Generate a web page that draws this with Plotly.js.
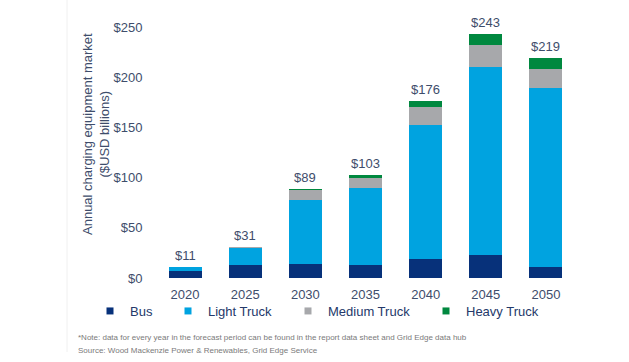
<!DOCTYPE html>
<html>
<head>
<meta charset="utf-8">
<script src="https://cdn.plot.ly/plotly-3.0.1.min.js"></script>
<style>html,body{margin:0;padding:0;background:#fff;}#chart{width:629px;height:362px;}</style>
</head>
<body>
<div id="chart"></div>
<script>
const years = ['2020','2025','2030','2035','2040','2045','2050'];
const bus = [6.5, 13, 14, 13, 19, 22.5, 11];
const lightTruck = [4, 16.5, 64, 77, 133, 188, 178];
const mediumTruck = [0.3, 1, 9.5, 10, 18.5, 22, 19];
const heavyTruck = [0.2, 0.5, 1.5, 3, 5.5, 10.5, 11];
const totalLabels = ['$11','$31','$89','$103','$176','$243','$219'];
const yTicks = [0, 50, 100, 150, 200, 250];
const yTickLabels = ['$0','$50','$100','$150','$200','$250'];

const seriesNames = ['Bus','Light Truck','Medium Truck','Heavy Truck'];
const seriesData = [bus, lightTruck, mediumTruck, heavyTruck];
const colors = ['#07317a','#00a3e0','#a7a8ab','#00883f'];
const legendIds = ['legend','legend2','legend3','legend4'];
const legendLeft = [90, 168, 288, 426];

const traces = [];
seriesData.forEach((vals, i) => {
  traces.push({
    type: 'bar', x: years, y: vals, name: seriesNames[i],
    marker: {color: colors[i]}, showlegend: false, hoverinfo: 'y'
  });
});
seriesData.forEach((vals, i) => {
  traces.push({
    type: 'scatter', mode: 'markers', x: [years[0]], y: [-1000],
    name: seriesNames[i], legend: legendIds[i],
    marker: {symbol: 'square', size: 7, color: colors[i]},
    showlegend: true, hoverinfo: 'skip', cliponaxis: true
  });
});

const totals = years.map((_, j) => bus[j] + lightTruck[j] + mediumTruck[j] + heavyTruck[j]);
const plotL = 155, plotW = 421, plotT = 27, plotH = 251;
const px = v => (v - plotL) / plotW;
const py = v => (plotT + plotH - v) / plotH;

const annotations = years.map((yr, j) => ({
  x: j, y: totals[j], xref: 'x', yref: 'y', text: totalLabels[j],
  showarrow: false, yanchor: 'bottom', yshift: 2,
  font: {family: 'Liberation Sans, Arial, sans-serif', size: 13, color: '#3e4d6b'}
}));
annotations.push({
  xref: 'paper', yref: 'paper', x: px(96), y: py(134), textangle: -90,
  text: 'Annual charging equipment market<br>($USD billions)', showarrow: false,
  xanchor: 'center', yanchor: 'middle', align: 'center',
  font: {family: 'Liberation Sans, Arial, sans-serif', size: 13, color: '#3e4d6b'}
});
annotations.push({
  xref: 'paper', yref: 'paper', x: px(76), y: py(337), xanchor: 'left', yanchor: 'middle',
  text: '*Note: data for every year in the forecast period can be found in the report data sheet and Grid Edge data hub',
  showarrow: false, font: {family: 'Liberation Sans, Arial, sans-serif', size: 8, color: '#7a7a7a'}
});
annotations.push({
  xref: 'paper', yref: 'paper', x: px(76), y: py(350), xanchor: 'left', yanchor: 'middle',
  text: 'Source: Wood Mackenzie Power &amp; Renewables, Grid Edge Service',
  showarrow: false, font: {family: 'Liberation Sans, Arial, sans-serif', size: 8, color: '#7a7a7a'}
});

const layout = {
  width: 629, height: 362,
  margin: {l: plotL, r: 629 - plotL - plotW, t: plotT, b: 362 - plotT - plotH, pad: 0},
  paper_bgcolor: '#ffffff', plot_bgcolor: '#ffffff',
  barmode: 'stack', bargap: 0.45,
  font: {family: 'Liberation Sans, Arial, sans-serif', size: 13, color: '#3e4d6b'},
  xaxis: {type: 'category', categoryorder: 'array', categoryarray: years,
    range: [-0.5, years.length - 0.5], autorange: false,
    showgrid: false, zeroline: false, showline: false,
    ticks: 'outside', ticklen: 4, tickcolor: 'rgba(0,0,0,0)',
    tickfont: {size: 13, color: '#3e4d6b'}},
  yaxis: {range: [0, 250], autorange: false, tickmode: 'array', tickvals: yTicks, ticktext: yTickLabels,
    showgrid: false, zeroline: false, showline: false, ticks: 'outside', ticklen: 9,
    tickcolor: 'rgba(0,0,0,0)', tickfont: {size: 13, color: '#3e4d6b'}},
  annotations: annotations,
  shapes: [{type: 'line', xref: 'paper', yref: 'paper', x0: px(67), x1: px(67), y0: py(0), y1: py(352),
    line: {color: '#f0f0f0', width: 1}}]
};
legendIds.forEach((id, i) => {
  layout[id] = {orientation: 'h', x: px(legendLeft[i]), xanchor: 'left', y: py(311), yanchor: 'middle',
    font: {family: 'Liberation Sans, Arial, sans-serif', size: 13, color: '#24396a'},
    bgcolor: 'rgba(0,0,0,0)', itemclick: false};
});

Plotly.newPlot('chart', traces, layout, {displayModeBar: false, staticPlot: true});
</script>
</body>
</html>
